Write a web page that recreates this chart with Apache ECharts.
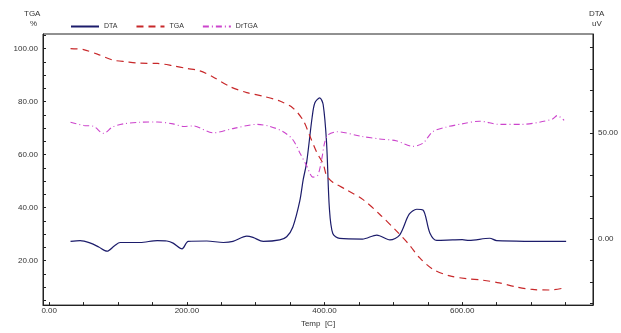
<!DOCTYPE html>
<html>
<head>
<meta charset="utf-8">
<script src="https://cdn.jsdelivr.net/npm/echarts@6/dist/echarts.min.js"></script>
<style>html,body{margin:0;padding:0;background:#fff}#c{width:621px;height:333px}</style>
</head>
<body>
<div id="c"></div>
<script>
// Data (Temp [C], value)
var dta = [[31,-1.0],[45,-0.6],[60,-1.8],[72,-3.6],[84,-5.6],[95,-3],[103,-1.5],[132,-1.5],[157,-0.6],[171,-0.8],[180,-1.8],[193,-4.5],[202,-1.0],[229,-0.8],[253,-1.5],[267,-1.0],[287,1.5],[296,0.9],[311,-1.0],[335,-0.3],[345,1.2],[354,5.8],[364,17.9],[369,28],[374,36],[382,57.3],[386,64.1],[393,66.4],[398,63.3],[403,45.1],[407,14.8],[412,2.7],[422,0.4],[455,0.1],[476,2],[495,-0.3],[509,2],[523,11.8],[534,14.1],[543,13.8],[553,3],[563,-0.5],[586,-0.3],[600,-0.2],[610,-0.5],[640,0.5],[650,-0.6],[751,-1.0]];
var tga = [[31,100],[50,99.6],[71,97.8],[92,95.7],[113,95],[132,94.5],[157,94.4],[180,93.5],[200,92.5],[219,91.6],[238,89.3],[263,85.6],[287,83.4],[311,82],[335,80.2],[354,77.6],[369,72.9],[379,66.8],[389,60.7],[398,56.5],[403,52.1],[412,49.6],[432,46.7],[456,43],[480,37.5],[504,31.3],[523,26],[538,21.1],[557,16.8],[582,14.2],[606,13.2],[630,12.6],[654,11.6],[678,10.1],[702,9.1],[727,8.9],[751,9.8]];
var drtga = [[31,72.2],[50,71.0],[64,70.7],[79,68],[92,70.4],[108,71.6],[132,72.2],[157,72.3],[180,71.6],[195,70.6],[209,70.8],[238,68.2],[267,69.8],[302,71.4],[320,70.7],[340,68.6],[354,65.6],[364,60.7],[374,55.8],[383,51.5],[390,52.1],[396,58.4],[400,64.3],[405,67.4],[418,68.6],[455,66.8],[480,65.9],[504,65.2],[528,63.1],[543,64.3],[557,68.6],[577,70.4],[600,71.6],[625,72.6],[654,71.4],[687,71.4],[712,72.2],[731,73.4],[738,74.7],[748,72.9]];
var xLabels = [0,200,400,600];
var xTicks = [0,50,100,150,200,250,300,350,400,450,500,550,600,650,700,750];
var yLeftLabels = [20,40,60,80,100];
var yLeftTicks = [5,10,15,20,25,30,35,40,45,50,55,60,65,70,75,80,85,90,95,100,105];
var yRightLabels = [0,50];
var yRightTicks = [-30,-20,-10,0,10,20,30,40,50,60,70,80,90];

var F = 'Liberation Sans, Arial, sans-serif';
var lblStyle = {fontFamily:F, fontSize:8, color:'#333'};
function fmt(v){return Number(v).toFixed(2);}
var chart = echarts.init(document.getElementById('c'), null, {renderer:'canvas'});
chart.setOption({
  animation:false,
  backgroundColor:'#fff',
  grid:{left:43, right:28, top:34, bottom:19, show:true, borderColor:'#222', borderWidth:1},
  legend:{
    left:65, top:18, itemWidth:28, itemHeight:8, itemGap:18,
    itemStyle:{opacity:0},
    textStyle:{fontFamily:F, fontSize:7, color:'#333'},
    data:['DTA','TGA','DrTGA']
  },
  graphic:[
    {type:'text', left:24, top:10, style:{text:'TGA', font:'8px '+F, fill:'#333'}},
    {type:'text', left:30, top:20, style:{text:'%', font:'8px '+F, fill:'#333'}},
    {type:'text', left:589, top:10, style:{text:'DTA', font:'8px '+F, fill:'#333'}},
    {type:'text', left:592, top:20, style:{text:'uV', font:'8px '+F, fill:'#333'}}
  ],
  xAxis:{
    type:'value', min:-9, max:790,
    name:'Temp  [C]', nameLocation:'middle', nameGap:11,
    nameTextStyle:{fontFamily:F, fontSize:8, color:'#333'},
    axisLine:{onZero:false, lineStyle:{color:'#222', width:1}},
    axisTick:{inside:true, length:3, customValues:xTicks, lineStyle:{color:'#222'}},
    axisLabel:Object.assign({customValues:xLabels, formatter:fmt, margin:2}, lblStyle),
    splitLine:{show:false}
  },
  yAxis:[{
    type:'value', min:3.2, max:105.5, position:'left',
    axisLine:{show:true, onZero:false, lineStyle:{color:'#222', width:1}},
    axisTick:{show:true, inside:true, length:3, customValues:yLeftTicks, lineStyle:{color:'#222'}},
    axisLabel:Object.assign({customValues:yLeftLabels, formatter:fmt, margin:5}, lblStyle),
    splitLine:{show:false}
  },{
    type:'value', min:-30.9, max:96.4, position:'right',
    axisLine:{show:true, onZero:false, lineStyle:{color:'#222', width:1}},
    axisTick:{show:true, inside:true, length:3, customValues:yRightTicks, lineStyle:{color:'#222'}},
    axisLabel:Object.assign({customValues:yRightLabels, formatter:fmt, margin:5}, lblStyle),
    splitLine:{show:false}
  }],
  series:[
    {name:'DTA', type:'line', yAxisIndex:1, data:dta, showSymbol:false, symbol:'none', smooth:0.3,
     lineStyle:{color:'#1c1c6b', width:1.2}, itemStyle:{color:'#1c1c6b'}},
    {name:'TGA', type:'line', yAxisIndex:0, data:tga, showSymbol:false, symbol:'none', smooth:0.3,
     lineStyle:{color:'#c8282a', width:1.2, type:[7,5]}, itemStyle:{color:'#c8282a'}},
    {name:'DrTGA', type:'line', yAxisIndex:0, data:drtga, showSymbol:false, symbol:'none', smooth:0.3,
     lineStyle:{color:'#cc44cc', width:1.1, type:[6,3,1,3]}, itemStyle:{color:'#cc44cc'}}
  ]
});
</script>
</body>
</html>
